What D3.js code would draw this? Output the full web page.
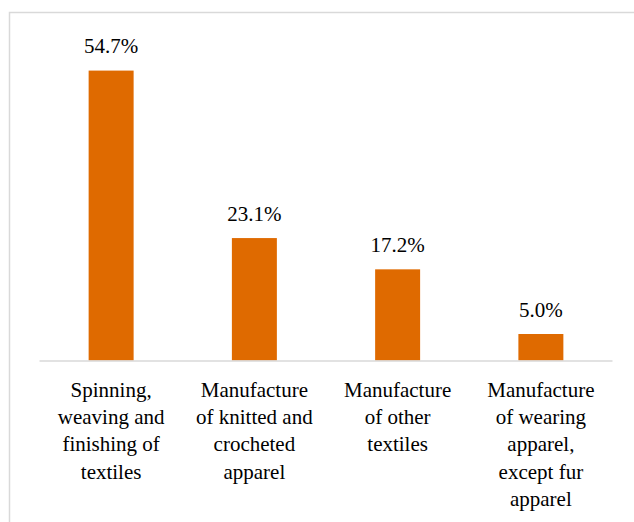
<!DOCTYPE html>
<html>
<head>
<meta charset="utf-8">
<script src="https://cdn.jsdelivr.net/npm/d3@7"></script>
<style>
  html, body { margin: 0; padding: 0; background: #fff; }
  svg { display: block; }
  svg text { font-family: "Liberation Serif", "Times New Roman", Times, "DejaVu Serif", serif; }
</style>
</head>
<body>
<svg id="chart" width="634" height="522"></svg>
<script>
const categories = [
  ["Spinning,", "weaving and", "finishing of", "textiles"],
  ["Manufacture", "of knitted and", "crocheted", "apparel"],
  ["Manufacture", "of other", "textiles"],
  ["Manufacture", "of wearing", "apparel,", "except fur", "apparel"]
];
const values = [54.7, 23.1, 17.2, 5.0];
const valueLabels = ["54.7%", "23.1%", "17.2%", "5.0%"];

const W = 634, H = 522;
const svg = d3.select("#chart");

// outer frame
svg.append("rect")
  .attr("x", 9.5).attr("y", 12.5)
  .attr("width", W + 10).attr("height", H + 10)
  .attr("fill", "none").attr("stroke", "#D9D9D9").attr("stroke-width", 1.5);

const left = 39.5, right = 612.5, baseY = 360.5;
const x = d3.scaleBand().domain(d3.range(values.length)).range([left, right]).paddingInner(0.686).paddingOuter(0.343);
const y = d3.scaleLinear().domain([0, 60]).range([baseY, baseY - 5.3 * 60]);

svg.selectAll("rect.bar").data(values).enter().append("rect")
  .attr("class", "bar")
  .attr("x", (d, i) => x(i))
  .attr("y", d => y(d))
  .attr("width", x.bandwidth())
  .attr("height", d => y(0) - y(d))
  .attr("fill", "#DF6A00");

// baseline
svg.append("line")
  .attr("x1", left).attr("x2", right)
  .attr("y1", baseY + 0.5).attr("y2", baseY + 0.5)
  .attr("stroke", "#D9D9D9").attr("stroke-width", 1.5);

// value labels
svg.selectAll("text.val").data(values).enter().append("text")
  .attr("class", "val")
  .attr("x", (d, i) => x(i) + x.bandwidth() / 2)
  .attr("y", d => y(d) - 17.5)
  .attr("text-anchor", "middle")
  .attr("font-size", 21)
  .attr("fill", "#000")
  .text((d, i) => valueLabels[i]);

// category labels
const cat = svg.selectAll("text.cat").data(categories).enter().append("text")
  .attr("class", "cat")
  .attr("text-anchor", "middle")
  .attr("font-size", 21)
  .attr("fill", "#000");
cat.each(function(lines, i) {
  const t = d3.select(this);
  lines.forEach((ln, j) => {
    t.append("tspan")
      .attr("x", x(i) + x.bandwidth() / 2)
      .attr("y", 396.5 + j * 27.4)
      .text(ln);
  });
});
</script>
</body>
</html>
